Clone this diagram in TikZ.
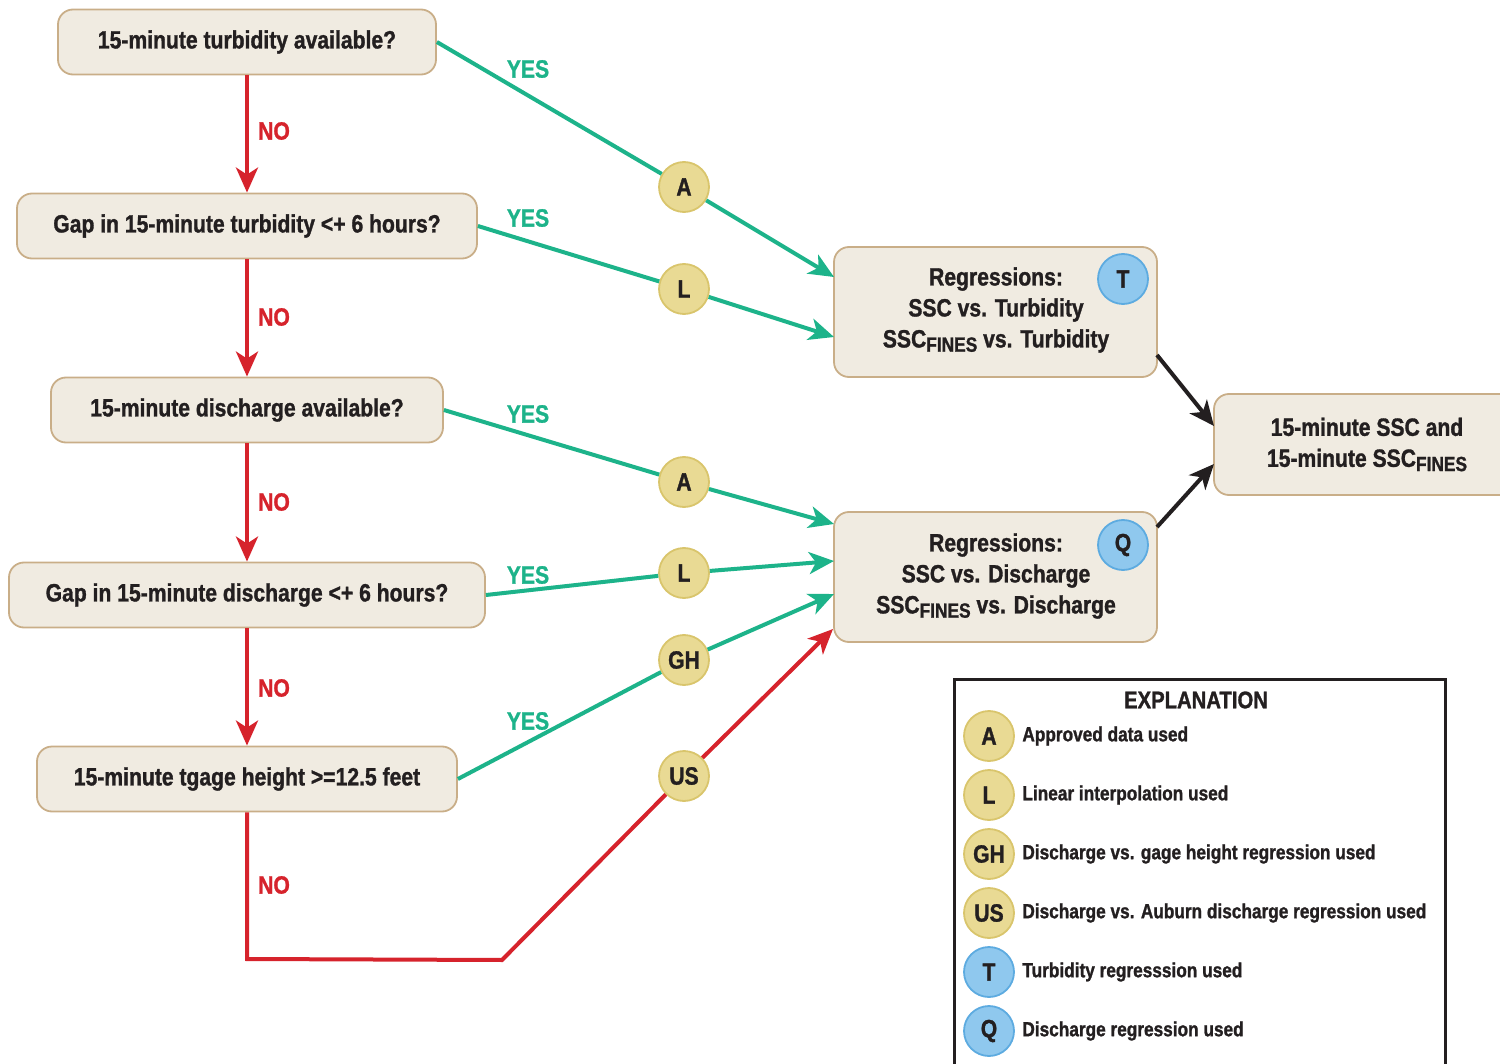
\documentclass[tikz,border=0pt]{standalone}
\usepackage{fontspec}
\setmainfont{Liberation Sans}[BoldFont={Liberation Sans Bold}, BoldFeatures={FakeStretch=0.845, FakeBold=1.2}, FakeStretch=0.845]
\usetikzlibrary{arrows.meta}
\definecolor{boxfill}{HTML}{F0EBE1}
\definecolor{boxline}{HTML}{C9AE88}
\definecolor{grn}{HTML}{1DB38A}
\definecolor{rd}{HTML}{D6232C}
\definecolor{yfill}{HTML}{E9DA94}
\definecolor{yline}{HTML}{D9C56C}
\definecolor{bfill}{HTML}{8FC8EE}
\definecolor{bline}{HTML}{5DABE0}
\definecolor{txt}{HTML}{231F20}
\newcommand{\fines}{\raisebox{-0.32ex}{\scalebox{0.82}{FINES}}}
\tikzset{
  qbox/.style={draw=boxline, fill=boxfill, rounded corners=7.5pt, line width=0.9pt,
    align=center, inner sep=0pt, text=txt,
    font=\fontsize{12.5}{15.5}\selectfont\bfseries},
  ycirc/.style={circle, draw=yline, fill=yfill, line width=0.9pt, minimum size=25pt,
    inner sep=0pt, text=txt, font=\fontsize{12.5}{15}\selectfont\bfseries},
  bcirc/.style={circle, draw=bline, fill=bfill, line width=0.9pt, minimum size=25pt,
    inner sep=0pt, text=txt, font=\fontsize{12.5}{15}\selectfont\bfseries},
  yeslab/.style={text=grn, font=\fontsize{12.5}{15}\selectfont\bfseries},
  nolab/.style={text=rd, font=\fontsize{12.5}{15}\selectfont\bfseries},
  garrow/.style={draw=grn, line width=2pt, -{Stealth[length=12.5pt, width=11pt, inset=3.5pt]}},
  gline/.style={draw=grn, line width=2pt},
  rarrow/.style={draw=rd, line width=2pt, -{Stealth[length=12.5pt, width=11pt, inset=3.5pt]}},
  rline/.style={draw=rd, line width=2pt},
  karrow/.style={draw=txt, line width=2pt, -{Stealth[length=12.5pt, width=11pt, inset=3.5pt]}},
  legtext/.style={anchor=west, text=txt, font=\fontsize{10.2}{12}\selectfont\bfseries, inner sep=0pt},
}
\begin{document}
\begin{tikzpicture}[x=0.5pt, y=-0.5pt]
\useasboundingbox (0,0) rectangle (1500,1064);
\begin{scope}
\clip (0,0) rectangle (1500,1064);

% decision boxes
\node[qbox, minimum width=189pt, minimum height=32.5pt] (b1) at (247,42) {15-minute turbidity available?};
\node[qbox, minimum width=230pt, minimum height=32.5pt] (b2) at (247,226) {Gap in 15-minute turbidity <+ 6 hours?};
\node[qbox, minimum width=196pt, minimum height=32.5pt] (b3) at (247,410) {15-minute discharge available?};
\node[qbox, minimum width=238pt, minimum height=32.5pt] (b4) at (247,595) {Gap in 15-minute discharge <+ 6 hours?};
\node[qbox, minimum width=210pt, minimum height=32.5pt] (b5) at (247,779) {15-minute tgage height >=12.5 feet};

% regression boxes
\node[qbox, minimum width=161.5pt, minimum height=65pt] (t) at (995.5,312) {};
\node[qbox, minimum width=161.5pt, minimum height=65pt] (q) at (995.5,577) {};
\node[text=txt, align=center, font=\fontsize{12.5}{15.5}\selectfont\bfseries, inner sep=0pt] (tt) at (996,310) {Regressions:\\SSC vs. Turbidity\\SSC\fines\ vs. Turbidity};
\node[text=txt, align=center, font=\fontsize{12.5}{15.5}\selectfont\bfseries, inner sep=0pt] (qt) at (996,576) {Regressions:\\SSC vs. Discharge\\SSC\fines\ vs. Discharge};
\node[bcirc] (cT) at (1123,279) {T};
\node[bcirc] (cQ) at (1123,545) {Q};

% output box
\node[qbox, minimum width=153pt, minimum height=50.5pt] (out) at (1367,444.5) {15-minute SSC and\\15-minute SSC\fines};

% method circles
\node[ycirc] (cA1) at (684,187) {A};
\node[ycirc] (cL1) at (684,289) {L};
\node[ycirc] (cA2) at (684,482) {A};
\node[ycirc] (cL2) at (684,573) {L};
\node[ycirc] (cGH) at (684,660) {GH};
\node[ycirc] (cUS) at (684,776) {US};

% target coordinates
\coordinate (tA) at (834,277);
\coordinate (tL) at (834,337);
\coordinate (qA) at (834,524);
\coordinate (qL) at (834,561);
\coordinate (qG) at (834,594);
\coordinate (qU) at (833,629);
\coordinate (r1) at (247,959);
\coordinate (r2) at (502,960);
\coordinate (tO) at (1157,355);
\coordinate (qO) at (1157,527);
\coordinate (o1) at (1214,426);
\coordinate (o2) at (1214,464);

% NO arrows
\draw[rarrow] (b1) -- (b2);
\draw[rarrow] (b2) -- (b3);
\draw[rarrow] (b3) -- (b4);
\draw[rarrow] (b4) -- (b5);
\draw[rline, line join=miter] (b5.south) -- (r1) -- (r2) -- (cUS);
\draw[rarrow] (cUS) -- (qU);

% YES arrows
\draw[gline] (b1.east) -- (cA1);
\draw[garrow] (cA1) -- (tA);
\draw[gline] (b2.east) -- (cL1);
\draw[garrow] (cL1) -- (tL);
\draw[gline] (b3.east) -- (cA2);
\draw[garrow] (cA2) -- (qA);
\draw[gline] (b4.east) -- (cL2);
\draw[garrow] (cL2) -- (qL);
\draw[gline] (b5.east) -- (cGH);
\draw[garrow] (cGH) -- (qG);

% to output
\draw[karrow] (tO) -- (o1);
\draw[karrow] (qO) -- (o2);

% labels
\node[yeslab] (y1) at (528,69) {YES};
\node[yeslab] (y2) at (528,218) {YES};
\node[yeslab] (y3) at (528,414) {YES};
\node[yeslab] (y4) at (528,575) {YES};
\node[yeslab] (y5) at (528,721) {YES};
\node[nolab] (n1) at (274,131) {NO};
\node[nolab] (n2) at (274,317) {NO};
\node[nolab] (n3) at (274,502) {NO};
\node[nolab] (n4) at (274,688) {NO};
\node[nolab] (n5) at (274,885) {NO};

% legend
\draw[draw=txt, line width=1.5pt] (954,679) rectangle (1445,1090);
\node[text=txt, font=\fontsize{12}{15}\selectfont\bfseries] (exp) at (1196,700) {EXPLANATION};
\node[ycirc] (lA) at (989,736) {A};
\node[ycirc] (lL) at (989,795) {L};
\node[ycirc] (lGH) at (989,854) {GH};
\node[ycirc] (lUS) at (989,913) {US};
\node[bcirc] (lT) at (989,972) {T};
\node[bcirc] (lQ) at (989,1031) {Q};
\node[legtext] (tA1) at (1022,736) {Approved data used};
\node[legtext] (tL1) at (1022,795) {Linear interpolation used};
\node[legtext] (tGH) at (1022,854) {Discharge vs. gage height regression used};
\node[legtext] (tUS) at (1022,913) {Discharge vs. Auburn discharge regression used};
\node[legtext] (tT) at (1022,972) {Turbidity regresssion used};
\node[legtext] (tQ) at (1022,1031) {Discharge regression used};
\end{scope}
\end{tikzpicture}
\end{document}
